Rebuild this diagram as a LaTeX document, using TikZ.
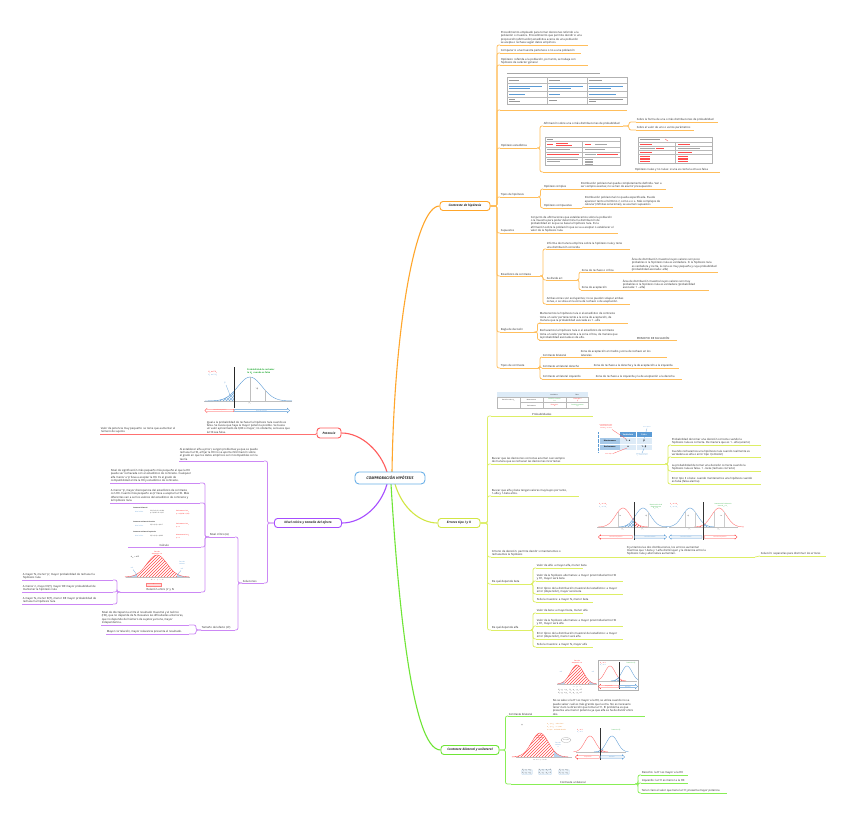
\documentclass[tikz,border=0pt]{standalone}
\usepackage{fontspec}
\setmainfont{Open Sans}
\usetikzlibrary{patterns,shapes.arrows,arrows.meta}
\definecolor{cBl}{HTML}{6BB0E8}
\definecolor{cOr}{HTML}{FFA62B}
\definecolor{cOl}{HTML}{FFBE5C}
\definecolor{cYe}{HTML}{D2E645}
\definecolor{cYl}{HTML}{DDEE66}
\definecolor{cGr}{HTML}{6FE536}
\definecolor{cGl}{HTML}{88EE55}
\definecolor{cRe}{HTML}{FF5C5C}
\definecolor{cRl}{HTML}{FF7070}
\definecolor{cPu}{HTML}{A64DFF}
\definecolor{cPl}{HTML}{CC88F5}
\definecolor{cTxt}{HTML}{222222}
\definecolor{cHd}{HTML}{5B9BD5}
\definecolor{cHl}{HTML}{DDEBF7}
\definecolor{cGn}{HTML}{22AA33}
\newcommand{\Hz}{H\textsubscript{0}}
\newcommand{\Hu}{H\textsubscript{1}}
\newcommand{\mleaf}[6]{\node[lf] (#1) at (#2,#3) {#6};\draw[#5] (#1.south west) -- ++(#4,0) coordinate (#1e);}
\newcommand{\cR}[4]{\draw[#3] (#1e) -- ++(#4,0) |- (#2.south west);}
\newcommand{\cL}[4]{\draw[#3] (#1.south west) -- ++(-#4,0) |- (#2e);}
\newcommand{\cM}[4]{\draw[#3] (#1.east) -- ++(#4,0) |- (#2.south west);}
\newcommand{\cMl}[4]{\draw[#3] (#1.west) -- ++(-#4,0) |- (#2e);}
\newcommand{\bellD}[6]{\draw[#6] plot[domain=#5,samples=36,smooth] ({#1+#3*\x},{#2-#4*exp(-0.5*(\x)*(\x))});}
\newcommand{\bellF}[7]{\fill[#7] ({#1+#3*(#5)},#2) -- plot[domain=#5:#6,samples=24,smooth] ({#1+#3*\x},{#2-#4*exp(-0.5*(\x)*(\x))}) -- ({#1+#3*(#6)},#2) -- cycle;}
\newcommand{\zarrow}[7]{\node[single arrow, draw=#5, fill=white, line width=0.3pt, minimum width=4.4pt, minimum height=#4pt, single arrow head extend=0.9pt, single arrow head indent=0pt, inner sep=0.25pt, shape border rotate=#6, font=\fontsize{1.4}{1.6}\selectfont, text=#5] (#1) at (#2,#3) {#7};}
\tikzset{
  lf/.style={anchor=south west, inner xsep=0.6pt, inner ysep=0.6pt, align=left, font=\fontsize{2.75}{3.3}\selectfont, text=cTxt},
  tny/.style={inner sep=0pt, align=center, font=\fontsize{1.5}{1.8}\selectfont},
  mn/.style={draw, rounded corners=3pt, line width=0.9pt, fill=white, font=\fontsize{3.1}{3.7}\selectfont\bfseries\itshape, inner xsep=2pt, inner ysep=1pt, minimum height=9pt, text=cTxt},
  uO/.style={draw=cOl, line width=0.75pt, rounded corners=2pt},
  uY/.style={draw=cYl, line width=0.75pt, rounded corners=2pt},
  uG/.style={draw=cGl, line width=0.75pt, rounded corners=2pt},
  uR/.style={draw=cRl, line width=0.75pt, rounded corners=2pt},
  uP/.style={draw=cPl, line width=0.75pt, rounded corners=2pt},
  gl/.style={line width=0.2pt, draw=gray!55},
}
\begin{document}
\begin{tikzpicture}[x=1pt,y=-1pt]
\useasboundingbox (0,0) rectangle (848,819);
\fill[white] (0,0) rectangle (848,819);

% ---------------- connectors from the central node (drawn first)
\coordinate (cN1) at (392,472);
\coordinate (cN2) at (387,472);
\coordinate (cS1) at (387,484);
\coordinate (cS2) at (395,484);
\coordinate (cS3) at (391,484);

% ---------------- central and main nodes
\node[mn,draw=cOr,minimum width=50pt] (oMain) at (465,206) {Contraste de hipótesis};
\node[mn,draw=cYe,minimum width=42pt] (eMain) at (459,523) {Errores tipo I y II};
\node[mn,draw=cGr,minimum width=58pt] (gMain) at (470,750) {Contraste bilateral y unilateral};
\node[mn,draw=cRe,minimum width=24pt,minimum height=10pt] (rMain) at (329,433) {Potencia};
\node[mn,draw=cPu,minimum width=67pt] (pMain) at (308,523) {Nivel crítico y tamaño del efecto};
\draw[cOr,line width=1.1pt] (cN1) .. controls (394,330) and (415,206) .. (oMain.west);
\draw[cRe,line width=1.1pt] (cN2) .. controls (381,452) and (362,433) .. (rMain.east);
\draw[cPu,line width=1.1pt] (cS1) .. controls (381,506) and (362,523) .. (pMain.east);
\draw[cYe,line width=1.1pt] (cS2) .. controls (402,508) and (420,523) .. (eMain.west);
\draw[cGr,line width=1.1pt] (cS3) .. controls (398,600) and (412,750) .. (gMain.west);
\node[draw=cBl, line width=0.9pt, rounded corners=4pt, fill=white, minimum width=70pt, minimum height=12pt, inner sep=1pt, font=\fontsize{3.7}{4.4}\selectfont\bfseries\itshape, text=cTxt] (cMain) at (390,478) {COMPROBACIÓN HIPÓTESIS};

% ================= ORANGE: Contraste de hipotesis
\mleaf{o1}{500}{45}{88}{uO}{Procedimiento empleado para tomar decisiones referido a la\\ población o muestra. Procedimiento que permite decidir si una\\ proposición (afirmación) estadística acerca de una población\\ se acepta o rechaza según datos empíricos.}
\mleaf{o2}{500}{53}{81}{uO}{Comparar si una muestra pertenece o no a una población}
\mleaf{o3}{500}{65}{88}{uO}{Hipótesis: referida a la población, por tanto, se trabaja con\\ hipótesis de carácter general}
\node[anchor=south west, minimum width=127pt, minimum height=38pt, inner sep=0pt] (o4) at (500,110) {};
\draw[uO] (o4.south west) -- ++(127,0) coordinate (o4e);
% table image
\draw[gray!70,line width=0.5pt] (507,73.3) -- (600,73.3);
\draw[gray!60,line width=0.3pt] (507,77) rectangle (627,104);
\foreach \yy in {83,91,97} \draw[gl] (507,\yy) -- (627,\yy);
\foreach \xx in {547,587} \draw[gl] (\xx,77) -- (\xx,104);
\foreach \xa/\xb in {509/519,549/560,589/602} \draw[gray!80,line width=0.5pt] (\xa,80) -- (\xb,80);
\foreach \xa/\xb in {509/542,549/583,589/623} {\draw[cHd,line width=0.5pt] (\xa,86) -- (\xb,86); \draw[cHd,line width=0.5pt] (\xa,88.3) -- (\xb-12,88.3);}
\foreach \xa/\xb in {509/525,549/560,589/616} \draw[cHd,line width=0.5pt] (\xa,94) -- (\xb,94);
\draw[gray!80,line width=0.5pt] (509,99.5) -- (515,99.5); \draw[gray!80,line width=0.5pt] (509,101.7) -- (520,101.7);
\draw[gray!80,line width=0.5pt] (549,100.5) -- (557,100.5);
\draw[gray!80,line width=0.5pt] (589,99.5) -- (623,99.5); \draw[gray!80,line width=0.5pt] (589,101.7) -- (596,101.7);

\mleaf{oHE}{500}{148}{37}{uO}{Hipótesis estadística}
\mleaf{oAf}{543}{126}{80}{uO}{Afirmación sobre una o más distribuciones de probabilidad}
\mleaf{oF1}{636}{122}{82}{uO}{Sobre la forma de una o más distribuciones de probabilidad}
\mleaf{oF2}{636}{130}{58}{uO}{Sobre el valor de uno o varios parámetros}
\node[anchor=south west, minimum width=85pt, minimum height=34pt, inner sep=0pt] (oIm1) at (543,172) {};
\draw[uO] (oIm1.south west) -- ++(87,0) coordinate (oIm1e);
\mleaf{oIm2}{634}{172}{86}{uO}{Hipótesis nulas y no nulas: si una es cierta la otra es falsa}
% image 1
\draw[gray!60,line width=0.3pt] (545,137) rectangle (620,165);
\foreach \yy in {141,147,152,157} \draw[gl] (545,\yy) -- (620,\yy);
\draw[gl] (582,141) -- (582,165);
\draw[gray!80,line width=0.4pt] (547,139) -- (553,139);
\draw[red!70,line width=0.4pt] (547,144) -- (553,144); \draw[red!70,line width=0.4pt] (556,143) -- (568,143); \draw[red!70,line width=0.4pt] (556,145.3) -- (572,145.3);
\draw[red!70,line width=0.4pt] (585,144) -- (591,144); \draw[gray!70,line width=0.4pt] (595,144) -- (607,144);
\draw[gray!70,line width=0.4pt] (547,149.5) -- (570,149.5); \draw[gray!70,line width=0.4pt] (585,149.5) -- (605,149.5);
\draw[red!70,line width=0.4pt] (547,154.5) -- (579,154.5); \draw[gray!70,line width=0.4pt] (585,154.5) -- (596,154.5); \draw[red!70,line width=0.4pt] (597,154.5) -- (618,154.5);
\draw[gray!70,line width=0.4pt] (547,159) -- (578,159); \draw[gray!70,line width=0.4pt] (547,161.3) -- (560,161.3);
\foreach \yy in {159,160.8,162.6,164} \draw[gray!70,line width=0.35pt] (585,\yy) -- (593,\yy);
% image 2
\draw[gray!60,line width=0.3pt] (638,137) rectangle (712,163);
\foreach \yy in {142,146,150,154} \draw[gl] (638,\yy) -- (712,\yy);
\draw[gl] (675,142) -- (675,163);
\draw[gray!80,line width=0.4pt] (640,139.5) -- (660,139.5); \draw[red!70,line width=0.4pt] (665,139) -- (668,141);
\draw[red!70,line width=0.4pt] (640,144) -- (652,144); \draw[red!70,line width=0.4pt] (678,144) -- (690,144);
\draw[gray!70,line width=0.4pt] (640,148) -- (655,148); \draw[red!70,line width=0.4pt] (656,148) -- (664,148); \draw[gray!70,line width=0.4pt] (678,148) -- (700,148);
\draw[red!70,line width=0.4pt] (640,152) -- (652,152); \draw[red!70,line width=0.4pt] (678,152) -- (692,152);
\foreach \yy in {156,157.8,159.6,161.4} {\draw[red!70,line width=0.35pt] (640,\yy) -- (650,\yy); \draw[red!70,line width=0.35pt] (678,\yy) -- (688,\yy);}

\mleaf{oTH}{500}{197}{38}{uO}{Tipos de hipótesis}
\mleaf{oSim}{543}{189}{35}{uO}{Hipótesis simples}
\mleaf{oSimT}{580}{189}{86}{uO}{Distribución poblacional queda completamente definida. Van a\\ ser siempre exactas; no se han de asumir presupuestos}
\mleaf{oCom}{543}{208}{39}{uO}{Hipótesis compuestas}
\mleaf{oComT}{584}{207}{89}{uO}{Distribución poblacional no queda especificada. Puede\\ aparecer tanto el término ≠, como ≤ o ≥. Más complejos de\\ calcular (infinitas soluciones), se asumen supuestos}
\mleaf{oSup}{500}{233}{30}{uO}{Supuestos}
\mleaf{oSupT}{530}{233}{88}{uO}{Conjunto de afirmaciones que establecemos sobre la población\\ o la muestra para poder determinar la distribución de\\ probabilidad en la que se basa la hipótesis nula. Es la\\ afirmación sobre la población que se va a aceptar o establecer el\\ valor de la hipótesis nula.}
\mleaf{oEC}{500}{276}{40}{uO}{Estadístico de contraste}
\mleaf{oInf}{546}{249}{84}{uO}{Informa de manera empírica sobre la hipótesis nula y tiene\\ una distribución conocida}
\mleaf{oDiv}{546}{280}{31}{uO}{Se divide en:}
\mleaf{oZR}{581}{272}{49}{uO}{Zona de rechazo o crítica}
\mleaf{oZRT}{631}{272}{87}{uO}{Área de distribución muestral cuyos valores son poco\\ probables si la hipótesis nula es verdadera. Si la hipótesis nula\\ es verdadera y cierta, la zona es muy pequeña y cuya probabilidad\\ (probabilidad asociada: alfa)}
\mleaf{oZA}{581}{290}{40}{uO}{Zona de aceptación}
\mleaf{oZAT}{622}{290}{87}{uO}{Área de distribución muestral cuyos valores son muy\\ probables si la hipótesis nula es verdadera (probabilidad\\ asociada: 1 - alfa)}
\mleaf{oAmb}{546}{304}{84}{uO}{Ambas zonas son excluyentes; no se pueden solapar ambas\\ zonas, o se sitúa en la zona de rechazo o de aceptación.}
\mleaf{oRD}{500}{332}{36}{uO}{Regla de decisión}
\mleaf{oMan}{539}{323}{89}{uO}{Mantenemos la hipótesis nula si el estadístico de contraste\\ toma un valor perteneciente a la zona de aceptación, de\\ manera que la probabilidad asociada es 1 - alfa}
\mleaf{oRec}{539}{340}{89}{uO}{Rechazamos la hipótesis nula si el estadístico de contraste\\ toma un valor perteneciente a la zona crítica, de manera que\\ la probabilidad asociada es de alfa.}
\mleaf{oPF}{636}{340}{41}{uO}{PRINCIPIO DE FALSACIÓN}
\mleaf{oTC}{500}{368}{38}{uO}{Tipos de contraste}
\mleaf{oCB}{542}{357}{38}{uO}{Contraste bilateral}
\mleaf{oCBT}{580}{357}{87}{uO}{Zona de aceptación en medio y zona de rechazo en los\\ laterales}
\mleaf{oCUD}{542}{368}{51}{uO}{Contraste unilateral derecho}
\mleaf{oCUDT}{593}{368}{86}{uO}{Zona de rechazo a la derecha y la de aceptación a la izquierda}
\mleaf{oCUI}{542}{379}{53}{uO}{Contraste unilateral izquierdo}
\mleaf{oCUIT}{595}{379}{87}{uO}{Zona de rechazo a la izquierda y la de aceptación a la derecha}

\foreach \n in {o1,o2,o3,o4,oHE,oTH,oSup,oEC,oRD,oTC} {\cM{oMain}{\n}{uO}{6.5}}
\cR{oHE}{oAf}{uO}{3}\cR{oHE}{oIm1}{uO}{3}
\cR{oAf}{oF1}{uO}{6}\cR{oAf}{oF2}{uO}{6}
\draw[uO] (oIm1e) -- (oIm2.south west);
\cR{oTH}{oSim}{uO}{2.5}\cR{oTH}{oCom}{uO}{2.5}
\draw[uO] (oSime) -- (oSimT.south west);
\draw[uO] (oCome) -- (oComT.south west);
\draw[uO] (oSupe) -- (oSupT.south west);
\cR{oEC}{oInf}{uO}{3}\cR{oEC}{oDiv}{uO}{3}\cR{oEC}{oAmb}{uO}{3}
\cR{oDiv}{oZR}{uO}{2}\cR{oDiv}{oZA}{uO}{2}
\draw[uO] (oZRe) -- (oZRT.south west);
\draw[uO] (oZAe) -- (oZAT.south west);
\cR{oRD}{oMan}{uO}{1.5}\cR{oRD}{oRec}{uO}{1.5}
\draw[uO] (oRece) -- (oPF.south west);
\cR{oTC}{oCB}{uO}{2}\cR{oTC}{oCUD}{uO}{2}\cR{oTC}{oCUI}{uO}{2}
\draw[uO] (oCBe) -- (oCBT.south west);
\draw[uO] (oCUDe) -- (oCUDT.south west);
\draw[uO] (oCUIe) -- (oCUIT.south west);

% ================= YELLOW: Errores tipo I y II
\node[lf, text width=100pt, align=center] (e1) at (491,416) {Probabilidades};
\draw[uY] (e1.south west) -- ++(102,0) coordinate (e1e);
% table 1
\fill[cHl] (497,392) rectangle (588,397);
\draw[gl] (497,397) rectangle (588,408);
\draw[gl] (520,402.5) -- (588,402.5);
\foreach \xx in {520,543,566} \draw[gl] (\xx,397) -- (\xx,408);
\node[tny,text=cTxt] at (554,394.5) {Verdadera};
\node[tny,text=cTxt] at (577,394.5) {Falsa};
\node[tny,text=cTxt] at (508.5,400) {Decisión sobre \Hz};
\node[tny,text=cTxt] at (531.5,400) {Mantenemos};
\node[tny,text=cTxt] at (531.5,405.5) {Rechazamos};
\node[tny,text=cGn] at (554.5,400) {Decisión correcta\\ 1-α};
\node[tny,text=red] at (577.5,400) {Error tipo II\\ β};
\node[tny,text=red] at (554.5,405.5) {Error tipo I\\ α};
\node[tny,text=cGn] at (577.5,405.5) {Decisión correcta\\ 1-β};

\mleaf{e2}{491}{464}{100}{uY}{Buscar que las decisiones correctas aciertan casi siempre\\ de manera que se rechazan las decisiones incorrectas}
\node[anchor=south west, minimum width=72pt, minimum height=42pt, inner sep=0pt] (e2img) at (593,464) {};
\draw[uY] (e2img.south west) -- ++(72,0) coordinate (e2imge);
% table 2
\fill[cHd] (620,431.5) rectangle (652,437);
\fill[cHd!55] (600,437.5) rectangle (619.5,450);
\fill[cHl] (620,437.5) rectangle (652,450);
\draw[white,line width=0.4pt] (600,443.7) -- (652,443.7);
\draw[white,line width=0.4pt] (636,431.5) -- (636,450);
\node[tny,text=white,font=\fontsize{2}{2.3}\selectfont\bfseries] at (628,434.3) {Verdadera};
\node[tny,text=white,font=\fontsize{2}{2.3}\selectfont\bfseries] at (644,434.3) {Falsa};
\node[tny,text=black,font=\fontsize{1.8}{2.1}\selectfont\bfseries] at (609.8,440.6) {Mantenemos};
\node[tny,text=black,font=\fontsize{1.8}{2.1}\selectfont\bfseries] at (609.8,446.8) {Rechazamos};
\node[tny,text=black,font=\fontsize{2.2}{2.5}\selectfont\bfseries] at (628,440.6) {1 - α};
\node[tny,text=black,font=\fontsize{2.2}{2.5}\selectfont\bfseries] at (644,440.6) {β};
\node[tny,text=black,font=\fontsize{2.2}{2.5}\selectfont\bfseries] at (628,446.8) {α};
\node[tny,text=black,font=\fontsize{2.2}{2.5}\selectfont\bfseries] at (644,446.8) {1 - β};
\draw[cHd,densely dotted,line width=0.3pt] (598,432) -- (598,452);
\node[tny,text=red,font=\fontsize{1.2}{1.45}\selectfont] (t2a) at (606,427) {Probabilidad de tomar\\ una decisión correcta\\ cuando \Hz{} es cierta};
\draw[red!70,line width=0.25pt] (612,429.5) -- (626,439);
\node[tny,text=cHd,font=\fontsize{1.3}{1.5}\selectfont] (t2b) at (647,427) {Error Tipo II};
\draw[cHd,line width=0.25pt] (647,428.5) -- (644,438.5);
\node[tny,text=red,font=\fontsize{1.3}{1.5}\selectfont] (t2c) at (609,454.5) {Error Tipo I};
\draw[red!70,line width=0.25pt] (613,453.5) -- (627,448);
\node[tny,text=cHd,font=\fontsize{1.2}{1.45}\selectfont] (t2d) at (642,455) {Rechazo correcto de\\ \Hz{} cuando es falsa};
\draw[cHd,line width=0.25pt] (642,453) -- (644,448.5);

\mleaf{e2a}{671}{445}{90}{uY}{Probabilidad de tomar una decisión correcta cuando la\\ hipótesis nula es correcta. De manera que es 1 - alfa (acierto)}
\mleaf{e2b}{671}{457}{90}{uY}{Cuando rechazamos una hipótesis nula cuando realmente es\\ verdadera es alfa o error tipo I (omisión)}
\mleaf{e2c}{671}{471}{90}{uY}{La probabilidad de tomar una decisión correcta cuando la\\ hipótesis nula es falsa. 1 - beta (rechazo correcto)}
\mleaf{e2d}{671}{484}{90}{uY}{Error tipo II o beta: cuando mantenemos una hipótesis cuando\\ es falsa (falsa alarma)}
\mleaf{e3}{491}{496}{88}{uY}{Buscar que alfa y beta tengan valores muy bajos por tanto,\\ 1-alfa y 1-beta altos.}
\mleaf{e4}{491}{557}{102}{uY}{Criterio de decisión: permite decidir si mantenemos o\\ rechazamos la hipótesis}
\node[anchor=south west, minimum width=160pt, minimum height=56pt, inner sep=0pt] (e4img) at (595,557) {};
\draw[uY] (e4img.south west) -- ++(160,0) coordinate (e4imge);
\node[lf] (e4txt) at (626,556.3) {Si juntamos las dos distribuciones, los errores aumentan\\ mientras que 1-beta y 1-alfa disminuyen y la distancia entre la\\ hipótesis nula y alternativa aumentan.};
% distributions image
\draw[gray!50,line width=0.2pt] (597,527) -- (667,527);
\draw[gray!50,line width=0.2pt] (669,527) -- (738,527);
\bellF{643}{527}{7.5}{19}{-3.2}{-1.2}{pattern=crosshatch, pattern color=cHd!80}
\bellF{623}{527}{7.5}{19}{1.47}{3.2}{pattern=north east lines, pattern color=red!75}
\bellD{623}{527}{7.5}{19}{-3.3:3.3}{red!60,line width=0.35pt}
\bellD{643}{527}{7.5}{19}{-3.3:3.3}{cHd,line width=0.35pt}
\bellF{719}{527}{7.5}{19}{-3.2}{-2.1}{pattern=north east lines, pattern color=red!75}
\bellF{690}{527}{7.5}{19}{1.75}{3.2}{pattern=crosshatch, pattern color=cHd!80}
\bellD{690}{527}{7.5}{19}{-3.3:3.3}{cHd,line width=0.35pt}
\bellD{719}{527}{7.5}{19}{-3.3:3.3}{red!60,line width=0.35pt}
\foreach \xx in {618,648,685,695,714,724} \draw[gray!40,line width=0.2pt] (\xx,527) -- (\xx,512);
\draw[black!80,line width=0.7pt] (634,502) -- (634,540);
\draw[black!80,line width=0.7pt] (703,502) -- (703,540);
\node[tny,text=red,anchor=west] at (599,504.5) {\Hz{} es V \Hz};
\node[tny,text=cHd,anchor=west] at (599,507.5) {\Hu{} es V \Hu};
\node[tny,text=red,anchor=west] at (670,504.5) {\Hz{} es V \Hz};
\node[tny,text=cHd,anchor=west] at (670,507.5) {\Hu{} es V \Hu};
\node[tny,text=cGn] at (656,507) {Disminución de la\\ distancia entre\\ \Hz{} y \Hu};
\node[tny,text=cGn] at (723,505.5) {Aumento de la distancia\\ entre \Hz{} y \Hu};
\node[tny,text=cTxt] at (620,516) {1-α};
\node[tny,text=cTxt] at (646,516) {1-β};
\node[tny,text=cTxt] at (688,516) {1-β};
\node[tny,text=cTxt] at (721,516) {1-α};
\node[tny,text=cTxt] at (623,530) {μ\textsubscript{0}};
\node[tny,text=cTxt] at (643,530) {μ\textsubscript{1}};
\node[tny,text=cTxt] at (690,530) {μ\textsubscript{1}};
\node[tny,text=cTxt] at (719,530) {μ\textsubscript{0}};
\zarrow{za1}{616}{537}{34}{red!75}{180}{Zona de aceptación}
\zarrow{za2}{650}{537}{32}{cHd}{0}{Zona de rechazo}
\zarrow{za3}{686}{537}{33}{cHd}{180}{Zona de rechazo}
\zarrow{za4}{720}{537}{33}{red!75}{0}{Zona de aceptación}
\mleaf{e4s}{760}{556}{66}{uY}{Solución: separarlas para disminuir los errores}

\mleaf{e5}{491}{584}{40}{uY}{De qué depende beta}
\mleaf{e5a}{536}{568}{47}{uY}{Valor de alfa: a mayor alfa, menor beta}
\mleaf{e5b}{536}{581}{87}{uY}{Valor de la hipótesis alternativa: a mayor proximidad entre H0\\ y H1, mayor será beta}
\mleaf{e5c}{536}{594}{87}{uY}{Error típico de la distribución muestral del estadístico: a mayor\\ error (dispersión), mayor será beta}
\mleaf{e5d}{536}{602}{57}{uY}{N de la muestra: a mayor N, menor beta}
\mleaf{e6}{491}{630}{40}{uY}{De qué depende alfa}
\mleaf{e6a}{536}{613}{47}{uY}{Valor de beta: a mayor beta, menor alfa}
\mleaf{e6b}{536}{626}{87}{uY}{Valor de la hipótesis alternativa: a mayor proximidad entre H0\\ y H1, mayor será alfa}
\mleaf{e6c}{536}{639}{87}{uY}{Error típico de la distribución muestral del estadístico: a mayor\\ error (dispersión), menor será alfa}
\mleaf{e6d}{536}{647}{57}{uY}{N de la muestra: a mayor N, mayor alfa}

\foreach \n in {e1,e2,e3,e4,e5,e6} {\cM{eMain}{\n}{uY}{7}}
\draw[uY] (e2e) -- (e2img.south west);
\foreach \n in {e2a,e2b,e2c,e2d} {\cR{e2img}{\n}{uY}{3}}
\draw[uY] (e4e) -- (e4img.south west);
\draw[uY] (e4imge) -- (e4s.south west);
\foreach \n in {e5a,e5b,e5c,e5d} {\cR{e5}{\n}{uY}{2}}
\foreach \n in {e6a,e6b,e6c,e6d} {\cR{e6}{\n}{uY}{2}}

% ================= GREEN: Contraste bilateral y unilateral
\mleaf{g1}{508}{716}{42}{uG}{Contraste bilateral}
\mleaf{g1img}{552}{716}{93}{uG}{No se sabe si la H1 es mayor a la H0, se utiliza cuando no se\\ puede saber cuál es más grande que la otra. No es necesario\\ tener claro la dirección que toma la H1. El problema es que\\ presenta una menor potencia ya que alfa se ha de dividir entre\\ dos.}
% bilateral images
\draw[gray!50,line width=0.2pt] (557,684) -- (597,684);
\bellF{577}{684}{6.5}{19}{-1.96}{1.96}{pattern=north east lines, pattern color=red!70}
\bellF{577}{684}{6.5}{19}{-3}{-1.96}{cHd!45}
\bellF{577}{684}{6.5}{19}{1.96}{3}{cHd!45}
\bellD{577}{684}{6.5}{19}{-3:3}{red!70,line width=0.35pt}
\node[tny,text=red] at (577,662.5) {Zona de\\ aceptación 1-α};
\node[tny,text=cHd] at (561,672) {α/2};
\node[tny,text=cHd] at (593,672) {α/2};
\node[tny,text=cTxt,font=\fontsize{1.2}{1.4}\selectfont] at (577,687) {-z\quad\quad μ\quad\quad z};
\draw[gray!60,line width=0.2pt] (598,660) rectangle (638,690);
\draw[gray!50,line width=0.2pt] (599,681) -- (637,681);
\bellF{627}{681}{5}{15}{-3}{-1.6}{pattern=crosshatch, pattern color=cHd!80}
\bellF{610}{681}{5}{15}{1.8}{3}{pattern=north east lines, pattern color=red!75}
\bellD{610}{681}{5}{15}{-2.4:3.2}{red!60,line width=0.35pt}
\bellD{627}{681}{5}{15}{-3.2:2.2}{cHd,line width=0.35pt}
\draw[black!80,line width=0.6pt] (619,662) -- (619,689);
\node[tny,text=red,anchor=west] at (600,663) {\Hz{} es V};
\node[tny,text=cHd,anchor=west] at (600,665.5) {\Hu{} es V};
\node[tny,text=cGn] at (631,663) {Potencia 1-β};
\zarrow{zb1}{609}{686.5}{20}{red!75}{180}{Aceptación}
\zarrow{zb2}{628}{686.5}{18}{cHd}{0}{Rechazo}
\node[tny,text=cTxt,anchor=west,font=\fontsize{1.7}{2}\selectfont] at (558,691.5) {\Hz: μ\textsubscript{1} = μ\textsubscript{2}\quad \Hz: μ\textsubscript{1} - μ\textsubscript{2} = 0\\ \Hu: μ\textsubscript{1} ≠ μ\textsubscript{2}\quad \Hu: μ\textsubscript{1} - μ\textsubscript{2} ≠ 0};

\node[lf, text width=122pt, align=center] (g2) at (511,784) {Contraste unilateral};
\draw[uG] (g2.south west) -- ++(124,0) coordinate (g2e);
% unilateral images
\draw[gray!50,line width=0.2pt] (516,757) -- (572,757);
\bellF{540}{757}{8.5}{24}{-3.2}{1.65}{pattern=north east lines, pattern color=red!70}
\bellF{540}{757}{8.5}{24}{1.65}{3.2}{cHd!45}
\bellD{540}{757}{8.5}{24}{-3.3:3.3}{red!70,line width=0.35pt}
\node[tny,text=cTxt,anchor=west] at (521,725.5) {(a)};
\node[tny,text=red] at (540,738) {Zona de\\ aceptación\\ 1-α};
\node[tny,text=cHd] at (558,745) {Zona de\\ rechazo\\ α};
\node[tny,text=orange!90!black,anchor=west,align=left,font=\fontsize{1.4}{1.7}\selectfont] at (547,727) {\Hz: μ ≤ μ\textsubscript{0}\quad valor crítico\\ \Hu: μ > μ\textsubscript{0}\quad z = 1,645\\ α = 0,05 \quad unilateral derecho};
\draw[gray!70,line width=0.25pt] (566,740) ellipse (5pt and 2.6pt);
\node[tny,text=cTxt] at (566,740) {z = 1,65};
\node[tny,text=cTxt,font=\fontsize{1.2}{1.4}\selectfont] at (540,760) {-3σ\ \ -2σ\ \ -σ\ \ \ μ\ \ \ σ\ \ 2σ\ \ 3σ};
\draw[gray!50,line width=0.2pt] (576,752) -- (626,752);
\bellF{612}{752}{5.5}{16}{-3}{-1.6}{pattern=crosshatch, pattern color=cHd!80}
\bellF{590}{752}{5.5}{16}{1.8}{3}{pattern=north east lines, pattern color=red!75}
\bellD{590}{752}{5.5}{16}{-3:3.3}{red!60,line width=0.35pt}
\bellD{612}{752}{5.5}{16}{-3.3:3}{cHd,line width=0.35pt}
\draw[black!80,line width=0.6pt] (600,728) -- (600,760);
\node[tny,text=red,anchor=west] at (577,730) {\Hz{} es V};
\node[tny,text=cHd,anchor=west] at (577,732.5) {\Hu{} es V};
\node[tny,text=cGn] at (616,730) {Potencia 1-β};
\zarrow{zc1}{588}{757}{24}{red!75}{180}{Aceptación}
\zarrow{zc2}{612}{757}{24}{cHd}{0}{Rechazo}
\foreach \bx/\tA/\tB in {527/{\Hz: μ\textsubscript{1} ≤ μ\textsubscript{2}}/{\Hu: μ\textsubscript{1} > μ\textsubscript{2}},545/{\Hz: μ\textsubscript{1} - μ\textsubscript{2} ≤ 0}/{\Hu: μ\textsubscript{1} - μ\textsubscript{2} > 0},564/{\Hz: μ\textsubscript{1} ≥ μ\textsubscript{2}}/{\Hu: μ\textsubscript{1} < μ\textsubscript{2}}}
  {\node[draw=cHd!40, fill=cHl!60, rounded corners=0.8pt, line width=0.2pt, inner sep=0.4pt, font=\fontsize{1.7}{2.3}\selectfont, text=cTxt, align=left] at (\bx,772) {\tA\\ \tB};}

\mleaf{g2a}{641}{775}{47}{uG}{Derecho: la H1 es mayor a la H0}
\mleaf{g2b}{641}{783}{47}{uG}{Izquierdo: la H1 es menor a la H0}
\mleaf{g2c}{641}{793}{86}{uG}{Tener claro el valor que tiene la H1; presenta mayor potencia}
\cM{gMain}{g1}{uG}{6}\cM{gMain}{g2}{uG}{6}
\draw[uG] (g1e) -- (g1img.south west);
\foreach \n in {g2a,g2b,g2c} {\cR{g2}{\n}{uG}{3}}

% ================= RED: Potencia
\node[lf] (r1) at (206,434) {Igual a la probabilidad de rechazar la hipótesis nula cuando es\\ falsa. Se busca que haya la mayor potencia posible. Se busca\\ un valor aproximado de 0,80 o mayor; no obstante, se busca que\\ la H0 sea falsa.};
\draw[uR] (r1.south west) -- ++(110,0) coordinate (r1e);
\mleaf{r2}{100}{434}{105}{uR}{Valor de potencia muy pequeño: se tiene que aumentar el\\ número de sujetos}
\draw[uR] (rMain.west) -- (r1e);
\draw[uR] (r1.south west) -- (r2e);
% potencia image
\draw[gray!50,line width=0.2pt] (204,401) -- (292,401);
\bellF{250}{401}{12}{24}{-3.75}{-1.33}{pattern=crosshatch, pattern color=cHd!80}
\bellD{250}{401}{12}{24}{-3.75:3.5}{cHd,line width=0.4pt}
\draw[gray!50,line width=0.25pt] (250,401) -- (250,377);
\draw[gray!50,line width=0.25pt] (265,401) -- (265,390);
\draw[black!85,line width=0.8pt] (234,367) -- (234,408);
\node[tny,text=red,anchor=west,font=\fontsize{1.8}{2.1}\selectfont] at (208,372) {\Hz{} es F \Hz};
\node[tny,text=cHd,anchor=west,font=\fontsize{1.8}{2.1}\selectfont] at (208,375.5) {\Hu{} es V \Hu};
\node[tny,text=cGn,font=\fontsize{2.2}{2.6}\selectfont\bfseries,align=left,anchor=west] at (247,371.5) {Probabilidad de rechazar\\ la \Hz{} cuando es falsa};
\node[tny,text=cTxt,font=\fontsize{1.8}{2.1}\selectfont] at (257,389) {1-β};
\node[tny,text=cHd,font=\fontsize{1.8}{2.1}\selectfont] (bt) at (225,383) {β};
\draw[cHd,line width=0.25pt,-{Stealth[length=1pt]}] (226,385) -- (230,395);
\node[tny,text=cTxt,font=\fontsize{1.6}{1.9}\selectfont] at (250,404) {μ\textsubscript{1}};
\zarrow{zp1}{220}{410.5}{29}{red!75}{180}{Zona de aceptación}
\zarrow{zp2}{261.5}{410.5}{55}{cHd}{0}{Zona de rechazo}

% ================= PURPLE: Nivel critico y tamano del efecto
\mleaf{p1}{179}{461}{85}{uP}{Al establecer alfa a priori, surgen problemas ya que se puede\\ rechazar la H0, al fijar la H0 no se aporta información sobre\\ el grado en que los datos empíricos son incompatibles con la\\ teoría}
\mleaf{pSol}{242}{583}{22}{uP}{Soluciones}
\mleaf{pNC}{209}{537}{26}{uP}{Nivel crítico (α)}
\mleaf{pTE}{201}{630}{34}{uP}{Tamaño del efecto (d²)}
\mleaf{pNC1}{110}{483}{90}{uP}{Nivel de significación más pequeño más pequeño al que la H0\\ puede ser rechazada con el estadístico de contraste. Cualquier\\ alfa menor a 'p' lleva a aceptar la H0. Es el grado de\\ compatibilidad entre la H0 y estadístico de contraste.}
\mleaf{pNC2}{110}{503}{90}{uP}{A menor 'p', mayor discrepancia del estadístico de contraste\\ con H0. Cuanto más pequeño es 'p' lleva a aceptar la H0. Más\\ diferentes van a ser los valores del estadístico de contraste y\\ la hipótesis nula.}
\node[lf, text width=71pt, align=center] (pNC3) at (128,547) {Cálculo};
\draw[uP] (pNC3.south west) -- ++(73,0) coordinate (pNC3e);
\node[lf, text width=79pt, align=center] (pNC4) at (120,592) {Relación entre 'p' y N};
\draw[uP] (pNC4.south west) -- ++(81,0) coordinate (pNC4e);
\mleaf{pR1}{22}{580}{91}{uP}{A mayor N, menor 'p', mayor probabilidad de rechazar la\\ hipótesis nula}
\mleaf{pR2}{22}{592}{91}{uP}{A menor n, mayor D(T), mayor DE mayor probabilidad de\\ mantener la hipótesis nula}
\mleaf{pR3}{22}{604}{91}{uP}{A mayor N, menor D(T), menor DE mayor probabilidad de\\ rechazar la hipótesis nula}
\mleaf{pTE1}{101}{625}{88}{uP}{Nivel de discrepancia entre el resultado muestral y el teórico\\ (H0), que no depende de N. Resuelve las dificultades anteriores,\\ que no depende del número de sujetos ya tiene, mayor\\ independencia.}
\mleaf{pTE2}{106}{634}{83}{uP}{Mayor correlación, mayor relevancia presenta el resultado.}
% calculo image
\node[tny,anchor=west,text=cTxt,font=\fontsize{1.5}{1.8}\selectfont\bfseries] at (133,508) {Contraste bilateral:};
\node[tny,anchor=west,text=cHd] at (135,512) {Nivel crítico};
\node[tny,anchor=west,text=cTxt,align=left] at (150,512.3) {2·P(Z ≥ 2,12) = 0,034\\ p = 0,034 < α = 0,05};
\node[tny,anchor=west,text=red,align=left] at (176,512.3) {Rechazamos la \Hz\\ p < α (0,034 < 0,05)};
\node[tny,anchor=west,text=cTxt,font=\fontsize{1.5}{1.8}\selectfont\bfseries] at (133,522) {Contraste unilateral derecho:};
\node[tny,anchor=west,text=cHd] at (135,525.5) {Nivel crítico};
\node[tny,anchor=west,text=cTxt] at (150,525.5) {P(Z ≥ 2,12) = 0,017};
\node[tny,anchor=west,text=red,align=left] at (176,526) {Rechazamos la \Hz\\ p < α};
\node[tny,anchor=west,text=cTxt,font=\fontsize{1.5}{1.8}\selectfont\bfseries] at (133,532) {Contraste unilateral izquierdo:};
\node[tny,anchor=west,text=cHd] at (135,536) {Nivel crítico};
\node[tny,anchor=west,text=cTxt] at (150,536) {P(Z ≤ 2,12) = 0,983};
\node[tny,anchor=west,text=red,align=left] at (176,537) {Mantenemos la \Hz\\ p > α};
% relacion image
\draw[gray!50,line width=0.2pt] (126,577) -- (190,577);
\bellF{157}{577}{10}{22}{-2}{2}{pattern=north east lines, pattern color=red!70}
\bellF{157}{577}{10}{22}{-3.2}{-2}{cHd!45}
\bellF{157}{577}{10}{22}{2}{3.2}{cHd!45}
\bellD{157}{577}{10}{22}{-3.2:3.2}{red!70,line width=0.35pt}
\node[tny,text=red] at (157,553.5) {Zona de\\ aceptación 1-α};
\node[tny,text=cHd] at (182,563) {Zona de\\ rechazo};
\node[tny,text=cTxt,font=\fontsize{2}{2.4}\selectfont] at (135,557) {α\textsubscript{/2} = α/2};
\node[tny,text=cHd] at (132,568) {α/2};
\node[tny,text=cHd] at (182,569) {α/2};
\draw[cHd,line width=0.2pt] (133,569.5) -- (137,575);
\draw[cHd,line width=0.2pt] (181,570.5) -- (177,575);
\node[tny,text=cTxt,font=\fontsize{1.2}{1.4}\selectfont] at (157,580) {-3σ\quad\ -z\quad\ \ \ μ\ \ \ \quad z\quad\ 3σ};
\draw[red!50,fill=red!15,line width=0.2pt] (146,583) rectangle (161,586);
\node[tny,text=red,font=\fontsize{1.2}{1.4}\selectfont] at (153.5,584.5) {p};

\cMl{pMain}{p1}{uP}{6.5}\cMl{pMain}{pSol}{uP}{6.5}
\cL{pSol}{pNC}{uP}{4}\cL{pSol}{pTE}{uP}{4}
\foreach \n in {pNC1,pNC2,pNC3,pNC4} {\cL{pNC}{\n}{uP}{4}}
\foreach \n in {pR1,pR2,pR3} {\cL{pNC4}{\n}{uP}{3}}
\cL{pTE}{pTE1}{uP}{5}\cL{pTE}{pTE2}{uP}{5}
\end{tikzpicture}
\end{document}
